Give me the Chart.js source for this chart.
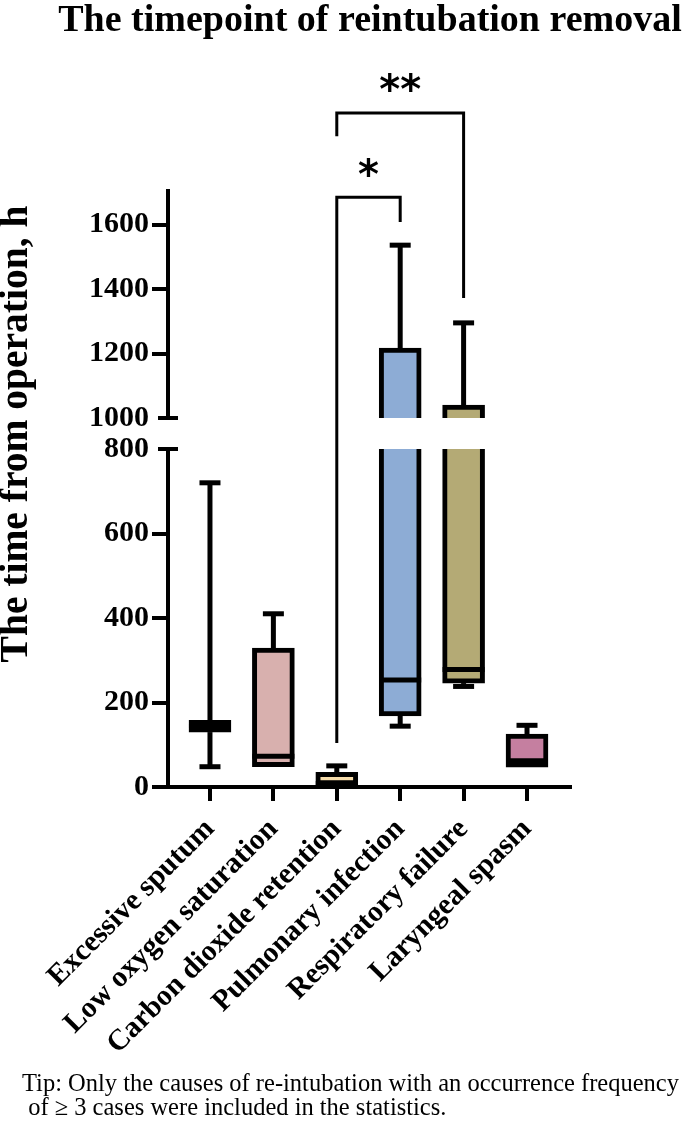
<!DOCTYPE html>
<html>
<head>
<meta charset="utf-8">
<title>The timepoint of reintubation removal</title>
<script src="https://cdn.jsdelivr.net/npm/chart.js@4.4.1/dist/chart.umd.min.js"></script>
<style>
  html, body { margin: 0; padding: 0; background: #fff; }
  canvas { display: block; }
</style>
</head>
<body>
<canvas id="reintubationCanvas" width="685" height="1124"></canvas>
<script>
(function() {
    'use strict';

    // categories (x axis)
    var categories = [
        'Excessive sputum',
        'Low oxygen saturation',
        'Carbon dioxide retention',
        'Pulmonary infection',
        'Respiratory failure',
        'Laryngeal spasm'
    ];

    // box plot values, hours
    var minValues    = [48,  48,  5,   144,  238,  47];
    var q1Values     = [130, 48,  5,   168,  246,  47];
    var medianValues = [145, 73,  8,   253,  278,  62];
    var q3Values     = [158, 329, 35,  1217, 1040, 125];
    var maxValues    = [720, 410, 50,  1536, 1295, 146];

    var boxColors = ['#000000', '#d8b0ae', '#f6dcaa', '#8dacd5', '#b4aa75', '#c57fa0'];

    // broken y axis: lower part 0-800, upper part 1000-1704
    var lowTicks = [0, 200, 400, 600, 800];
    var highTicks = [1000, 1200, 1400, 1600];
    var LOW_MAX = 800;
    var HIGH_MIN = 1000;
    var HIGH_MAX = 1704;

    // significance brackets: category indexes, bracket top and leg ends (hours)
    var brackets = [
        { from: 2, to: 3, top: 1685, fromEnd: 104, toEnd: 1608, mark: '*' },
        { from: 2, to: 4, top: 1946, fromEnd: 1874, toEnd: 1372, mark: '**' }
    ];

    var SERIF = '"Liberation Serif", "Times New Roman", serif';
    var BOX_W = 42;
    var CAP_W = 21;
    var LINE_W = 5;

    function valueToPixel(chart, v) {
        if (v >= HIGH_MIN) {
            return chart.scales.yHigh.getPixelForValue(v);
        }
        return chart.scales.yLow.getPixelForValue(v);
    }

    function line(ctx, x1, y1, x2, y2) {
        ctx.beginPath();
        ctx.moveTo(x1, y1);
        ctx.lineTo(x2, y2);
        ctx.stroke();
    }

    var lowBoxes = categories.map(function(c, i) {
        return { x: i, y: [q1Values[i], Math.min(q3Values[i], LOW_MAX)] };
    });
    var highBoxes = [];
    categories.forEach(function(c, i) {
        if (q3Values[i] > HIGH_MIN) {
            highBoxes.push({ x: i, y: [HIGH_MIN, q3Values[i]] });
        }
    });

    var boxExtras = {
        id: 'boxExtras',
        afterDatasetsDraw: function(chart) {
            var ctx = chart.ctx;
            var xs = chart.scales.x;
            ctx.save();
            ctx.strokeStyle = '#000';
            ctx.lineWidth = LINE_W;
            for (var i = 0; i < categories.length; i++) {
                var cx = xs.getPixelForValue(i);
                if (maxValues[i] > q3Values[i]) {
                    var top = valueToPixel(chart, maxValues[i]);
                    line(ctx, cx, valueToPixel(chart, q3Values[i]), cx, top);
                    line(ctx, cx - CAP_W / 2, top, cx + CAP_W / 2, top);
                }
                if (minValues[i] < q1Values[i]) {
                    var bot = valueToPixel(chart, minValues[i]);
                    line(ctx, cx, valueToPixel(chart, q1Values[i]), cx, bot);
                    line(ctx, cx - CAP_W / 2, bot, cx + CAP_W / 2, bot);
                }
                var my = valueToPixel(chart, medianValues[i]);
                line(ctx, cx - BOX_W / 2, my, cx + BOX_W / 2, my);
            }
            ctx.restore();
        },
        afterDraw: function(chart) {
            var ctx = chart.ctx;
            var xs = chart.scales.x;
            var axisX = chart.chartArea.left;
            ctx.save();
            ctx.strokeStyle = '#000';
            ctx.fillStyle = '#000';

            // axis break caps
            ctx.lineWidth = 4;
            var yb1 = chart.scales.yHigh.getPixelForValue(HIGH_MIN);
            var yb2 = chart.scales.yLow.getPixelForValue(LOW_MAX);
            line(ctx, axisX - 10, yb1, axisX + 10, yb1);
            line(ctx, axisX - 10, yb2, axisX + 10, yb2);

            // significance brackets
            ctx.lineWidth = 3;
            ctx.font = 'bold 40px "DejaVu Sans", sans-serif';
            ctx.textAlign = 'center';
            ctx.textBaseline = 'middle';
            brackets.forEach(function(b) {
                var x1 = xs.getPixelForValue(b.from);
                var x2 = xs.getPixelForValue(b.to);
                var yt = valueToPixel(chart, b.top);
                ctx.beginPath();
                ctx.moveTo(x1, valueToPixel(chart, b.fromEnd));
                ctx.lineTo(x1, yt);
                ctx.lineTo(x2, yt);
                ctx.lineTo(x2, valueToPixel(chart, b.toEnd));
                ctx.stroke();
                ctx.fillText(b.mark, (x1 + x2) / 2, yt - 20);
            });

            // title
            ctx.font = 'bold 38px ' + SERIF;
            ctx.textBaseline = 'alphabetic';
            ctx.fillText('The timepoint of reintubation removal', 370, 31);

            // y axis title
            ctx.save();
            ctx.translate(27, 434);
            ctx.rotate(-Math.PI / 2);
            ctx.font = 'bold 39.5px ' + SERIF;
            ctx.fillText('The time from operation, h', 0, 0);
            ctx.restore();

            // footnote
            ctx.font = '24.5px ' + SERIF;
            ctx.textAlign = 'left';
            ctx.fillText('Tip: Only the causes of re-intubation with an occurrence frequency', 22, 1091);
            ctx.fillText(' of \u2265 3 cases were included in the statistics.', 22, 1115);
            ctx.restore();
        }
    };

    function yAxis(min, max, ticks, weight, hiddenTick) {
        return {
            type: 'linear',
            position: 'left',
            stack: 'v',
            stackWeight: weight,
            min: min,
            max: max,
            afterBuildTicks: function(scale) {
                scale.ticks = ticks.map(function(v) { return { value: v }; });
            },
            afterFit: function(scale) { scale.width = 168; },
            border: { display: true, color: '#000', width: 4 },
            grid: {
                drawOnChartArea: false,
                drawTicks: true,
                tickLength: 16,
                tickWidth: 4,
                lineWidth: 4,
                tickColor: function(c) {
                    return c.tick && c.tick.value === hiddenTick ? 'rgba(0,0,0,0)' : '#000';
                }
            },
            ticks: {
                color: '#000',
                padding: 3,
                font: { family: SERIF, weight: 'bold', size: 30 },
                callback: function(v) { return String(v); }
            }
        };
    }

    var ctx = document.getElementById('reintubationCanvas').getContext('2d');
    var chartObj = new Chart(ctx, {
        type: 'bar',
        data: {
            datasets: [{
                label: 'box (lower)',
                data: lowBoxes,
                yAxisID: 'yLow',
                grouped: false,
                barThickness: BOX_W,
                backgroundColor: function(c) { return boxColors[c.raw.x]; },
                borderColor: '#000',
                borderWidth: LINE_W,
                borderSkipped: function(c) { return q3Values[c.raw.x] > LOW_MAX ? 'top' : false; }
            }, {
                label: 'box (upper)',
                data: highBoxes,
                yAxisID: 'yHigh',
                grouped: false,
                barThickness: BOX_W,
                backgroundColor: function(c) { return boxColors[c.raw.x]; },
                borderColor: '#000',
                borderWidth: LINE_W,
                borderSkipped: 'bottom'
            }]
        },
        options: {
            responsive: false,
            animation: false,
            layout: { padding: { top: 191, right: 115, left: 0, bottom: 0 } },
            plugins: {
                legend: { display: false },
                tooltip: { enabled: false },
                title: { display: false }
            },
            scales: {
                x: {
                    type: 'linear',
                    min: -0.662,
                    max: 5.678,
                    offset: false,
                    afterBuildTicks: function(scale) {
                        scale.ticks = categories.map(function(c, i) { return { value: i }; });
                    },
                    afterFit: function(scale) { scale.height = 337; },
                    border: { display: true, color: '#000', width: 4 },
                    grid: {
                        offset: false,
                        drawOnChartArea: false,
                        drawTicks: true,
                        tickLength: 14,
                        tickWidth: 4,
                        lineWidth: 4,
                        tickColor: '#000'
                    },
                    ticks: {
                        autoSkip: false,
                        minRotation: 45,
                        maxRotation: 45,
                        color: '#000',
                        padding: 11,
                        font: { family: SERIF, weight: 'bold', size: 29.5 },
                        callback: function(v) { return categories[v]; }
                    }
                },
                yLow: yAxis(0, LOW_MAX, lowTicks, 338, LOW_MAX),
                yGap: {
                    type: 'linear',
                    position: 'left',
                    stack: 'v',
                    stackWeight: 31,
                    min: 0,
                    max: 1,
                    afterFit: function(scale) { scale.width = 168; },
                    border: { display: false },
                    grid: { display: false },
                    ticks: { display: false }
                },
                yHigh: yAxis(HIGH_MIN, HIGH_MAX, highTicks, 227, HIGH_MIN)
            }
        },
        plugins: [boxExtras]
    });
})();
</script>
</body>
</html>
